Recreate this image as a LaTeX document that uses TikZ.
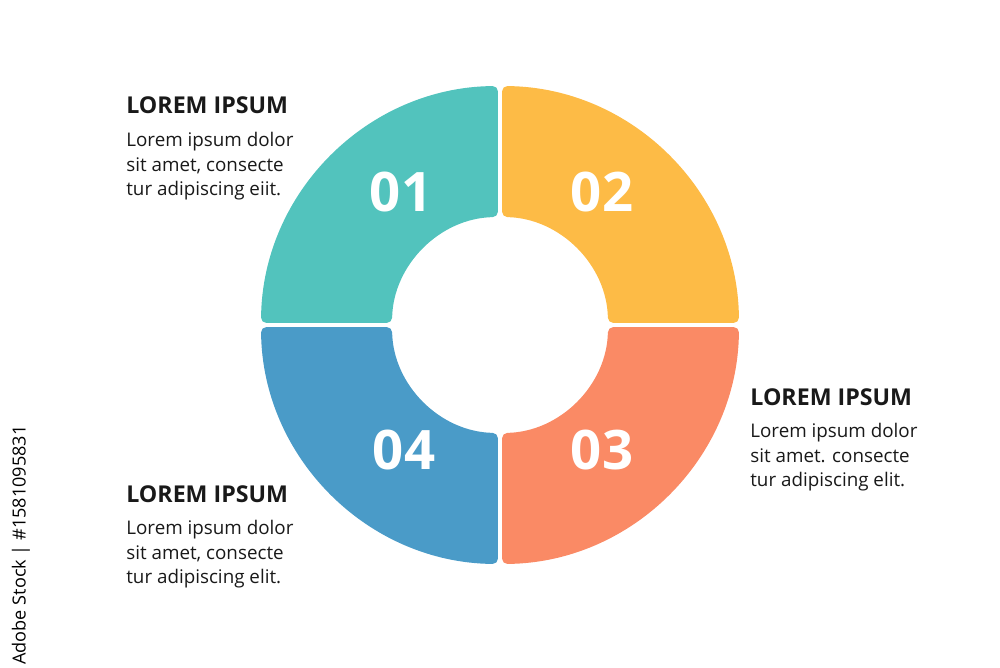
\documentclass[tikz,border=0pt]{standalone}
\usepackage{fontspec}
\setmainfont{Open Sans}
\usetikzlibrary{positioning}

\definecolor{segteal}{RGB}{82,195,189}
\definecolor{segyellow}{RGB}{253,187,70}
\definecolor{segorange}{RGB}{250,138,101}
\definecolor{segblue}{RGB}{74,155,200}
\definecolor{textdark}{RGB}{25,25,25}

\begin{document}
\begin{tikzpicture}[
    x=0.02cm, y=0.02cm,
    segment/.style={
        draw=none,
        rounded corners=3pt
    },
    number/.style={
        text=white,
        inner sep=0pt,
        font=\bfseries\fontsize{31}{31}\selectfont
    },
    heading/.style={
        anchor=base west,
        inner sep=0pt,
        text=textdark,
        font=\bfseries\fontsize{13.2}{15}\selectfont
    },
    body/.style={
        align=left,
        inner sep=0pt,
        text=textdark,
        font=\fontsize{10.7}{13.8}\selectfont
    }
]
\useasboundingbox (0,0) rectangle (1000,667);

% Ring
\coordinate (c) at (500,342);
\fill[segment, fill=segteal] ([shift={(90.5:239)}]c) arc (90.5:179.5:239)
    -- ([shift={(178.9:108)}]c) arc (178.9:91.1:108) -- cycle;
\fill[segment, fill=segyellow] ([shift={(0.5:239)}]c) arc (0.5:89.5:239)
    -- ([shift={(88.9:108)}]c) arc (88.9:1.1:108) -- cycle;
\fill[segment, fill=segorange] ([shift={(-89.5:239)}]c) arc (-89.5:-0.5:239)
    -- ([shift={(-1.1:108)}]c) arc (-1.1:-88.9:108) -- cycle;
\fill[segment, fill=segblue] ([shift={(180.5:239)}]c) arc (180.5:269.5:239)
    -- ([shift={(268.9:108)}]c) arc (268.9:181.1:108) -- cycle;

% Numbers
\node[number] (n01) at (401,475) {01};
\node[number] (n02) at (602,475) {02};
\node[number] (n03) at (602,217) {03};
\node[number] (n04) at (404,217) {04};

% Texts
\node[heading] (h1) at (126,553) {LOREM IPSUM};
\node[body, below=10pt of h1.south west, anchor=north west] (t1)
    {Lorem ipsum dolor\\sit amet, consecte\\tur adipiscing eiit.};

\node[heading] (h3) at (750,262) {LOREM IPSUM};
\node[body, below=10pt of h3.south west, anchor=north west] (t3)
    {Lorem ipsum dolor\\sit amet. consecte\\tur adipiscing elit.};

\node[heading] (h4) at (126,165) {LOREM IPSUM};
\node[body, below=10pt of h4.south west, anchor=north west] (t4)
    {Lorem ipsum dolor\\sit amet, consecte\\tur adipiscing elit.};

% Side label
\node[rotate=90, inner sep=0pt, text=black, font=\fontsize{10.3}{12}\selectfont]
    (stock) at (21,122) {Adobe Stock | \#1581095831};

\end{tikzpicture}
\end{document}
